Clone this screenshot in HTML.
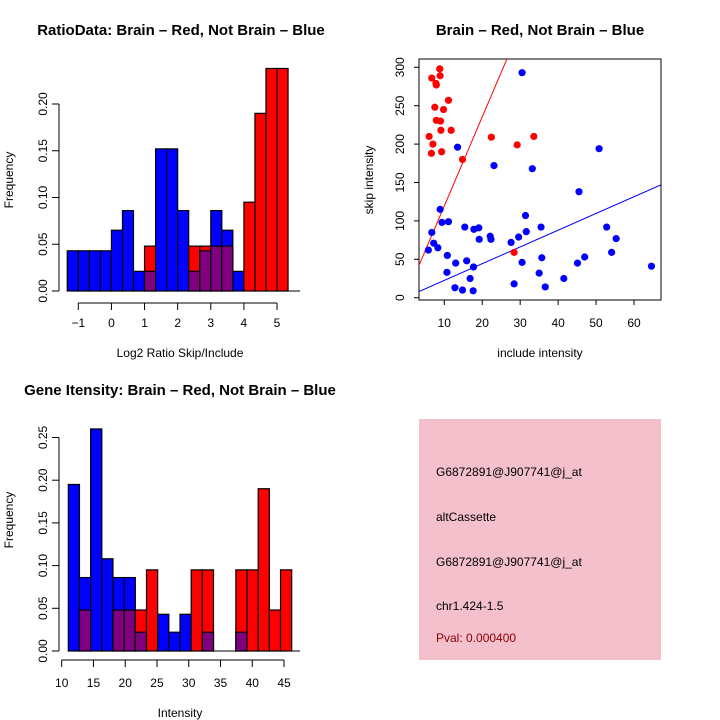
<!DOCTYPE html>
<html><head><meta charset="utf-8"><style>
body{margin:0;background:#fff}
svg{display:block;font-family:"Liberation Sans",sans-serif}
</style></head><body>
<svg id="c" width="720" height="720" viewBox="0 0 720 720" xmlns="http://www.w3.org/2000/svg">
<rect width="720" height="720" fill="#fff"/>
<text x="181" y="35" text-anchor="middle" font-size="15" font-weight="bold">RatioData: Brain – Red, Not Brain – Blue</text>
<text x="540" y="35" text-anchor="middle" font-size="15" font-weight="bold">Brain – Red, Not Brain – Blue</text>
<text x="180" y="395" text-anchor="middle" font-size="15" font-weight="bold">Gene Itensity: Brain – Red, Not Brain – Blue</text>
<text x="180" y="357" text-anchor="middle" font-size="12">Log2 Ratio Skip/Include</text>
<text transform="translate(13,180) rotate(-90)" text-anchor="middle" font-size="12">Frequency</text>
<text x="540" y="357" text-anchor="middle" font-size="12">include intensity</text>
<text transform="translate(373,180) rotate(-90)" text-anchor="middle" font-size="12">skip intensity</text>
<text x="180" y="717" text-anchor="middle" font-size="12">Intensity</text>
<text transform="translate(13,520) rotate(-90)" text-anchor="middle" font-size="12">Frequency</text>
<g>
<rect x="419" y="419" width="242" height="241" fill="#f4c0cc"/>
<text x="436" y="476" font-size="12">G6872891@J907741@j_at</text>
<text x="436" y="521" font-size="12">altCassette</text>
<text x="436" y="566" font-size="12">G6872891@J907741@j_at</text>
<text x="436" y="610" font-size="12">chr1.424-1.5</text>
<text x="436" y="642" font-size="12" fill="#8b0000">Pval: 0.000400</text>
</g>
<g id="g1"></g>
<g id="g2"></g>
<g id="g3"></g>
</svg>
<script>
const ratioBlue=[.043,.043,.043,.043,.065,.086,.021,.021,.152,.152,.086,.021,.043,.086,.065,.021,0,0,0,0];
const ratioRed=[0,0,0,0,0,0,0,.048,0,0,0,.048,.048,.048,.048,0,.095,.190,.238,.238];
const ratioXTicks=[-1,0,1,2,3,4,5];
const ratioYTicks=["0.00","0.05","0.10","0.15","0.20"];
const intBlue=[.195,.086,.26,.108,.086,.086,.022,0,.043,.022,.043,0,.022,0,0,.022,0,0,0,0];
const intRed=[0,.048,0,0,.048,.048,.048,.095,0,0,0,.095,.095,0,0,.095,.095,.19,.048,.095];
const intXTicks=[10,15,20,25,30,35,40,45];
const intYTicks=["0.00","0.05","0.10","0.15","0.20","0.25"];
const redX=[8.8,8.9,6.7,7.8,7.9,11.1,7.5,9.8,7.9,9.0,9.1,11.8,6.0,7.0,6.6,9.3,14.8,22.4,29.2,33.6,28.4];
const redY=[298,289,286,279,277,257,248,245,231,230,218,218,210,200,188,190,180,209,199,210,59];
const blueX=[30.5,13.5,23.1,33.2,50.8,45.5,8.9,9.4,11.1,15.4,17.8,19.1,19.2,22.1,22.3,31.4,31.6,29.6,27.6,35.5,52.8,55.3,54.1,47.0,45.1,64.6,6.7,7.2,8.3,5.8,10.8,10.7,13.0,15.9,17.7,16.8,12.8,14.8,17.6,28.4,30.5,35.7,35.0,36.6,41.5];
const blueY=[293,196,172,168,194,138,115,98,99,92,89,91,76,80,76,107,86,79,72,92,92,77,59,53,45,41,85,71,65,62,55,33,45,48,40,25,13,10,9,18,46,52,32,14,25];
const scatXTicks=[10,20,30,40,50,60];
const scatYTicks=[0,50,100,150,200,250,300];
const redLine=[3.4,11.6];
const blueLine=[0.7,2.18];

const NS="http://www.w3.org/2000/svg";
function mk(p,t,a){const e=document.createElementNS(NS,t);for(const k in a)e.setAttribute(k,a[k]);p.appendChild(e);return e;}

function hist(g,blue,red,x0,bw,yZero,yScale,xTicks,xAx,yTicks,yStep,axY,lblY){
  const yAx=59;
  for(let i=0;i<blue.length;i++){
    const b=blue[i],r=red[i],mx=Math.max(b,r),mn=Math.min(b,r);
    const x=x0+i*bw;
    if(mx>0){const e=mk(g,'rect',{x:x,y:yZero-mx*yScale,width:bw,height:mx*yScale,fill:b>=r?'#0000ff':'#ff0000',stroke:'#000','stroke-width':1.2});
      
      }
    if(mn>0){const e=mk(g,'rect',{x:x,y:yZero-mn*yScale,width:bw,height:mn*yScale,fill:'#800080',stroke:'#000','stroke-width':1.2});
      
      }
  }
  mk(g,'line',{x1:yAx+10,x2:300,y1:yZero,y2:yZero,stroke:'#000'});
  const yTop=yZero-parseFloat(yTicks[yTicks.length-1])*yScale;
  mk(g,'line',{x1:yAx,x2:yAx,y1:yZero,y2:yTop,stroke:'#000'});
  yTicks.forEach((t,i)=>{const y=yZero-parseFloat(t)*yScale;
    mk(g,'line',{x1:yAx-7,x2:yAx,y1:y,y2:y,stroke:'#000'});
    const tx=mk(g,'text',{transform:`translate(${yAx-12},${y}) rotate(-90)`,'text-anchor':'middle','font-size':12});tx.textContent=t;
    
    });
  mk(g,'line',{x1:xAx(xTicks[0]),x2:xAx(xTicks[xTicks.length-1]),y1:axY,y2:axY,stroke:'#000'});
  xTicks.forEach(t=>{const x=xAx(t);mk(g,'line',{x1:x,x2:x,y1:axY,y2:axY+7,stroke:'#000'});
    const tx=mk(g,'text',{x:x,y:lblY,'text-anchor':'middle','font-size':12});tx.textContent=String(t).replace('-','−');
    
    });
}
(function(){
  const xs=v=>78.3+(v+1)*33.12;
  hist(document.getElementById('g1'),ratioBlue,ratioRed,xs(-4/3),33.12/3,291,935,ratioXTicks,xs,ratioYTicks,0,303,327);
})();
(function(){
  const xs=v=>61.7+(v-10)*6.352;
  hist(document.getElementById('g3'),intBlue,intRed,68.3,11.17,651,854,intXTicks,xs,intYTicks,0,660,687);
})();
(function(){
  const g=document.getElementById('g2');
  const xs=v=>444.3+(v-10)*3.794, ys=v=>297.7-v*0.768;
  mk(g,'rect',{x:419,y:59,width:242,height:241,fill:'none',stroke:'#000'});
  const cp=mk(g,'clipPath',{id:'cp'});mk(cp,'rect',{x:419,y:59,width:242,height:241});
  const lg=mk(g,'g',{'clip-path':'url(#cp)'});
  [[redLine,'#ff0000','red-fit-line'],[blueLine,'#0000ff','blue-fit-line']].forEach(([l,c,n])=>{
    const e=mk(lg,'line',{x1:xs(0),y1:ys(l[0]),x2:xs(80),y2:ys(l[0]+l[1]*80),stroke:c,'stroke-width':1});
    
    });
  redX.forEach((x,i)=>{const e=mk(g,'circle',{cx:xs(x),cy:ys(redY[i]),r:3.6,fill:'#ff0000'});
    
    });
  blueX.forEach((x,i)=>{const e=mk(g,'circle',{cx:xs(x),cy:ys(blueY[i]),r:3.6,fill:'#0000ff'});
    
    });
  scatXTicks.forEach(t=>{const x=xs(t);mk(g,'line',{x1:x,x2:x,y1:300,y2:305,stroke:'#000'});
    const tx=mk(g,'text',{x:x,y:327,'text-anchor':'middle','font-size':12});tx.textContent=t;
    
    });
  scatYTicks.forEach(t=>{const y=ys(t);mk(g,'line',{x1:414,x2:419,y1:y,y2:y,stroke:'#000'});
    const tx=mk(g,'text',{transform:`translate(${404},${y}) rotate(-90)`,'text-anchor':'middle','font-size':12});tx.textContent=t;
    
    });
})();
</script>
</body></html>
